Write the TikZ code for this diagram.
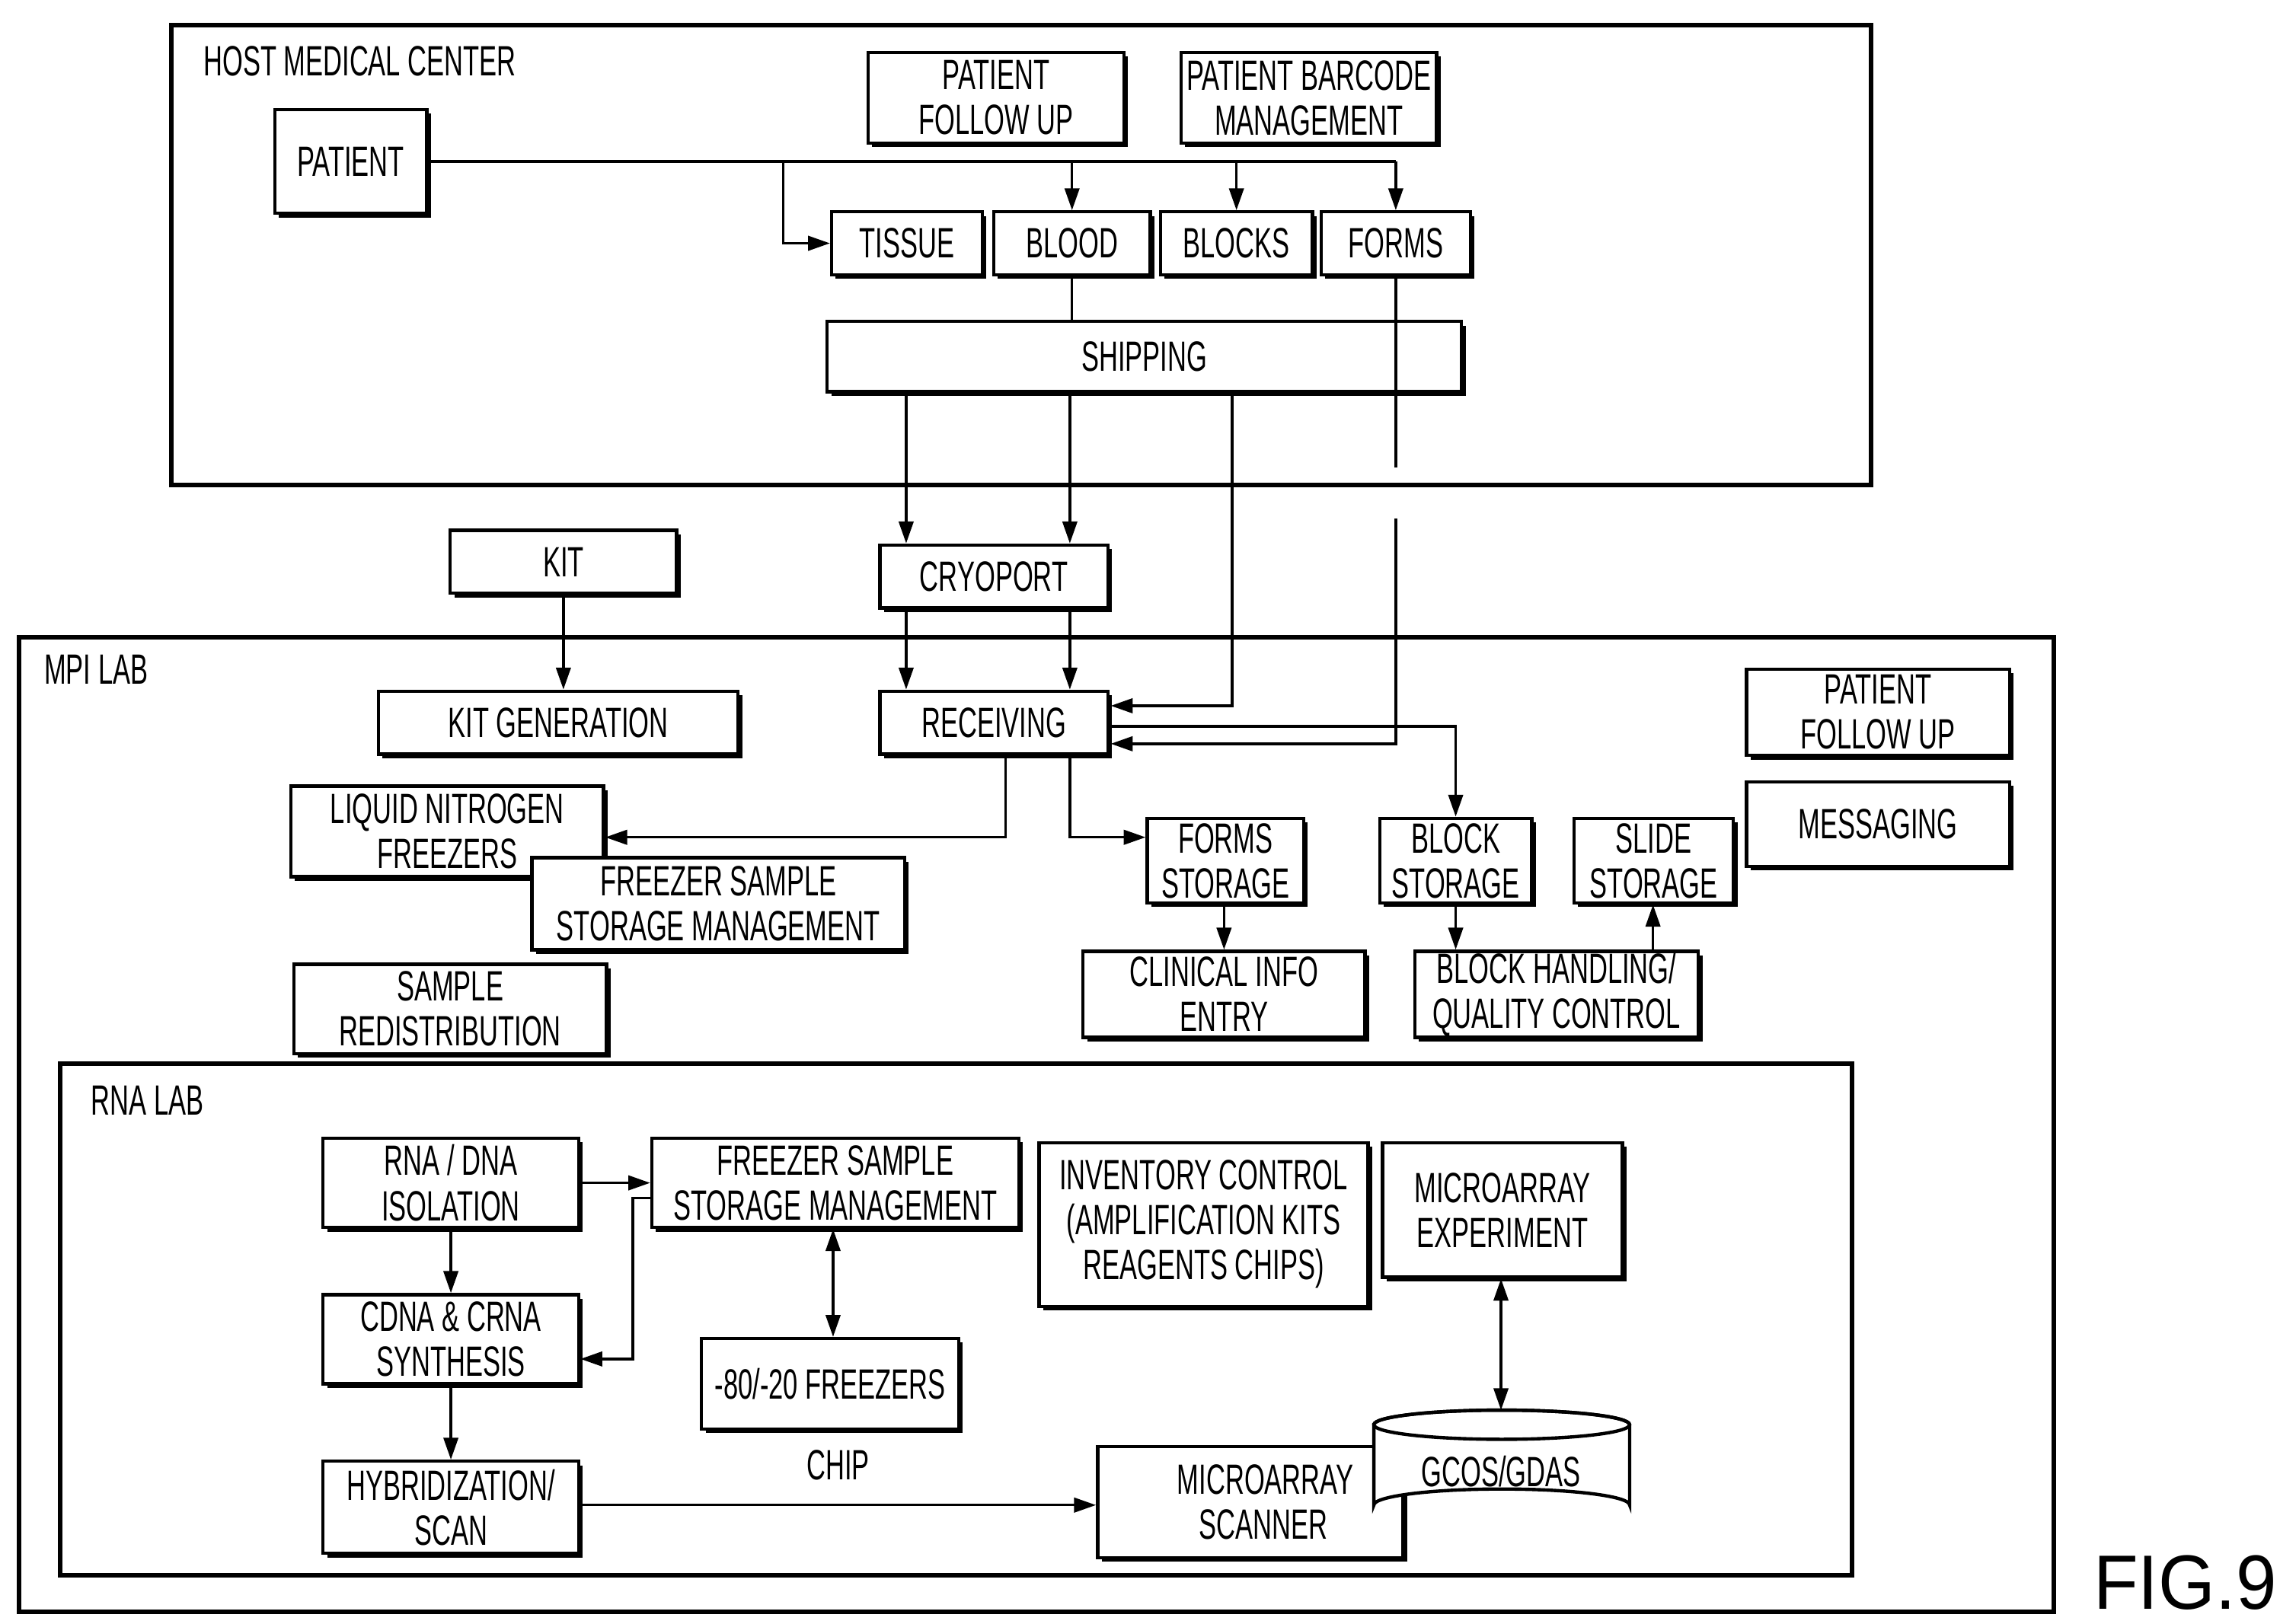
\documentclass[tikz,border=0pt]{standalone}
\usepackage{fontspec}
\setmainfont{Liberation Sans}[FakeStretch=0.62]
\usetikzlibrary{shadows,arrows.meta,calc}
\begin{document}
\begin{tikzpicture}[x=0.02cm,y=-0.02cm,
  font=\fontsize{16.5}{17.5}\selectfont,
  box/.style={draw,line width=1.3pt,fill=white,align=center,inner sep=0pt,
    general shadow={fill=black,shadow xshift=1.6pt,shadow yshift=-1.6pt}},
  frame/.style={draw,line width=1.8pt},
  ar/.style={-{Triangle[length=0.3cm,width=0.2cm]},line width=1pt},
  dar/.style={{Triangle[length=0.3cm,width=0.2cm]}-{Triangle[length=0.3cm,width=0.2cm]},line width=1pt},
  ln/.style={line width=1pt},
  lbl/.style={anchor=west,inner sep=0pt}]
\useasboundingbox (0,0) rectangle (1560,1111);
\newcommand\bx[6]{\node[box,minimum width={(#4-#2)*0.02cm},minimum height={(#5-#3)*0.02cm}] (#1) at ({(#2+#4)/2},{(#3+#5)/2}) {#6};}
% frames
\draw[frame] (117,17) rectangle (1280,332);
\node[lbl] (hmc) at (139,42) {HOST MEDICAL CENTER};
\draw[frame] (13,436) rectangle (1405,1103);
\node[lbl] (mpi) at (30,458) {MPI LAB};
\draw[frame] (41,728) rectangle (1267,1078);
\node[lbl] (rna) at (62,753) {RNA LAB};
\node[anchor=south east,inner sep=0pt,font=\fontsize{30}{30}\selectfont\addfontfeature{FakeStretch=0.95}] (fig) at (1558,1102) {FIG.9};
% host boxes
\bx{patient}{188}{75}{292}{146}{PATIENT}
\bx{pfu}{594}{36}{769}{98}{PATIENT\\FOLLOW UP}
\bx{pbm}{808}{36}{983}{98}{PATIENT BARCODE\\MANAGEMENT}
\bx{tissue}{569}{145}{672}{188}{TISSUE}
\bx{blood}{680}{145}{787}{188}{BLOOD}
\bx{blocks}{794}{145}{898}{188}{BLOCKS}
\bx{forms}{904}{145}{1006}{188}{FORMS}
\bx{shipping}{566}{220}{1000}{268}{SHIPPING}
\bx{kit}{308}{363}{463}{406}{KIT}
\bx{cryo}{602}{373}{758}{416}{CRYOPORT}
% MPI boxes
\bx{kitgen}{259}{473}{505}{516}{KIT GENERATION}
\bx{recv}{602}{473}{758}{516}{RECEIVING}
\bx{pfu2}{1195}{458}{1375}{517}{PATIENT\\FOLLOW UP}
\bx{msg}{1195}{535}{1375}{593}{MESSAGING}
\bx{lnf}{199}{538}{413}{600}{LIQUID NITROGEN\\FREEZERS}
\bx{fssm}{364}{587}{619}{650}{FREEZER SAMPLE\\STORAGE MANAGEMENT}
\bx{redist}{201}{660}{415}{721}{SAMPLE\\REDISTRIBUTION}
\bx{fstor}{785}{560}{892}{618}{FORMS\\STORAGE}
\bx{bstor}{944}{560}{1048}{618}{BLOCK\\STORAGE}
\bx{sstor}{1077}{560}{1186}{618}{SLIDE\\STORAGE}
\bx{clin}{741}{651}{934}{710}{CLINICAL INFO\\ENTRY}
\bx{bhq}{968}{651}{1162}{710}{BLOCK HANDLING/\\QUALITY CONTROL}
% RNA boxes
\bx{iso}{221}{779}{396}{840}{RNA / DNA\\ISOLATION}
\bx{fssm2}{446}{779}{697}{840}{FREEZER SAMPLE\\STORAGE MANAGEMENT}
\bx{cdna}{221}{886}{396}{947}{CDNA \& CRNA\\SYNTHESIS}
\bx{frz}{480}{916}{656}{978}{-80/-20 FREEZERS}
\bx{inv}{711}{782}{936}{894}{INVENTORY CONTROL\\(AMPLIFICATION KITS\\REAGENTS CHIPS)}
\bx{mexp}{946}{782}{1110}{874}{MICROARRAY\\EXPERIMENT}
\bx{hyb}{221}{1000}{396}{1063}{HYBRIDIZATION/\\SCAN}
\node[box,minimum width=4.18cm,minimum height=1.52cm,text width=3.6cm,align=left] (scan) at (855.5,1028) {\hspace*{0.8cm}MICROARRAY\\\hspace*{1.1cm}SCANNER};
% cylinder
\filldraw[fill=white,line width=1.3pt] (940,975) -- (940,1030) arc[start angle=180,end angle=360,x radius=87.5,y radius=11] -- (1115,975) arc[start angle=0,end angle=-180,x radius=87.5,y radius=10] -- cycle;
\draw[line width=1.3pt] (1027.5,975) ellipse[x radius=87.5,y radius=10];
\node (gcos) at (1027,1007) {GCOS/GDAS};
\coordinate (gtop) at (1027,965);
% connectors host
\coordinate (jn) at (536,110.5);
\draw[ln] (patient.east) -- (patient.east -| forms.north);
\draw[ar] (jn) |- (tissue.west);
\draw[ar] (patient.east -| blood.north) -- (blood.north);
\draw[ar] (patient.east -| blocks.north) -- (blocks.north);
\draw[ar] (patient.east -| forms.north) -- (forms.north);
\draw[ln] (blood.south) -- (blood.south |- shipping.north);
\coordinate (x620) at (620,0);
\coordinate (x732) at (732,0);
\coordinate (x843) at (843,0);
\coordinate (x955) at (955,0);
\draw[ar] (shipping.south -| x620) -- (cryo.north -| x620);
\draw[ar] (shipping.south -| x732) -- (cryo.north -| x732);
\coordinate (r1) at (760,483);
\coordinate (r2) at (760,497);
\coordinate (r3) at (760,509);
\draw[ar] (shipping.south -| x843) |- (r1);
\coordinate (fbreak1) at (955,320);
\coordinate (fbreak2) at (955,355);
\draw[ln] (forms.south -| x955) -- (fbreak1);
\draw[ar] (fbreak2) |- (r3);
\draw[ar] (r2) -| (bstor.north);
\draw[ar] (kit.south) -- (kitgen.north -| kit.south);
\draw[ar] (cryo.south -| x620) -- (recv.north -| x620);
\draw[ar] (cryo.south -| x732) -- (recv.north -| x732);
\coordinate (x688) at (688,0);
\draw[ar] (recv.south -| x688) |- (lnf.east |- 0,573);
\draw[ar] (recv.south -| x732) |- (fstor.west |- 0,573);
\draw[ar] (fstor.south -| clin.north) -- (clin.north);
\draw[ar] (bstor.south) -- (bhq.north -| bstor.south);
\coordinate (x1131) at (1131,0);
\draw[ar] (bhq.north -| x1131) -- (sstor.south -| x1131);
% RNA connectors
\draw[ar] (iso.south) -- (cdna.north);
\draw[ar] (cdna.south) -- (hyb.north);
\draw[ar] (iso.east) -- (iso.east -| fssm2.west);
\coordinate (k1) at (433,820);
\draw[ar] (fssm2.west |- k1) -- (k1) |- (cdna.east |- 0,930);
\draw[dar] (fssm2.south -| 570,0) -- (frz.north -| 570,0);
\draw[dar] (mexp.south -| gtop) -- (gtop);
\draw[ar] (hyb.east |- 0,1030) -- node[above=6pt] (chip) {CHIP} (scan.west |- 0,1030);
\end{tikzpicture}
\end{document}
